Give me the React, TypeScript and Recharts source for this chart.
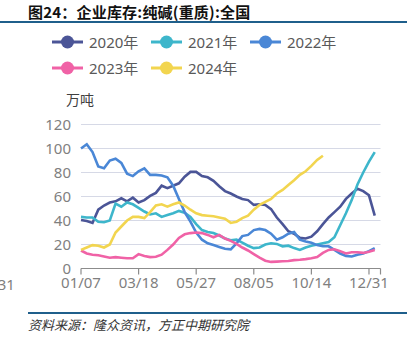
import { LineChart, Line, XAxis, YAxis, CartesianGrid } from "recharts";

const years = ["2020年", "2021年", "2022年", "2023年", "2024年"];
const keys = ["y2020", "y2021", "y2022", "y2023", "y2024"];
const colors = ["#4b5597", "#3db6cb", "#4a87d6", "#f062a6", "#f2d54f"];

const xTicks = [0, 10, 20, 30, 40, 50, 52];
const xTickLabels = ["01/07", "03/18", "05/27", "08/05", "10/14", "12/31", ""];
const yTicks = [0, 20, 40, 60, 80, 100, 120];

// weekly inventory, 万吨
const s2020 = [40.5, 39.5, 38, 49, 52.5, 55, 56, 58.5, 56, 59, 55, 57, 60.5, 63, 69, 67, 69, 71, 76.5, 80.5, 80.5, 77, 76, 73, 68.5, 64.5, 62.5, 60, 58, 57, 53, 53.5, 53, 49.5, 42.5, 37, 31, 29, 25.5, 25, 26.5, 31, 37, 42.5, 47, 51.5, 58, 62.5, 66.5, 64.5, 61, 44];
const s2021 = [43, 42.5, 42.5, 39, 38.5, 40, 54, 51.5, 55, 53.5, 50.5, 47.5, 45, 46, 43, 44.5, 46, 48, 46.5, 43, 37, 32, 30.5, 29.5, 27.5, 25, 23.5, 24, 21.5, 19, 17, 17.5, 20, 21, 20.5, 18.5, 19, 17, 15.5, 17.5, 19, 20, 21, 22, 26, 36, 46, 57, 70, 80, 89, 97];
const s2022 = [100, 103.5, 97, 85, 83.5, 90, 91.5, 88, 79, 77, 81, 83.5, 78, 78, 77.5, 76, 69, 58, 47, 39, 30, 24, 21, 19.5, 18, 16.5, 16, 21, 27, 28, 32, 33, 32, 29, 24, 26, 29, 30.5, 24, 22.5, 21.5, 19.5, 18.5, 18.5, 15.5, 12.5, 10.5, 10, 11.5, 12.5, 14.5, 17];
const s2023 = [15, 12.5, 11.5, 11, 10, 9, 9.5, 9, 8.5, 8.5, 12, 10.5, 9.5, 9.8, 11.5, 15.5, 20, 25.5, 28.5, 29.5, 30, 29.5, 28, 26, 28, 25, 23, 20.5, 17.5, 15, 12, 9, 6.5, 5.5, 5.7, 6, 6.2, 7, 7.3, 7.8, 8.5, 9.5, 13, 15.5, 16, 14.5, 12.5, 13.5, 13.5, 13, 14, 15.5];
const s2024 = [15.5, 17.5, 19.5, 19, 17.5, 20, 30, 35, 40, 43, 43, 42, 47, 52.5, 53.5, 51.5, 53.5, 55, 52.5, 49, 46, 44.5, 44, 43.5, 42.5, 41.5, 38, 39, 42, 44, 49, 53, 55.5, 58, 62.5, 65.5, 69.5, 73.5, 78, 81, 85.5, 90.5, 94];

const series = [s2020, s2021, s2022, s2023, s2024];

const data = s2020.map((_, i) => {
  const row: Record<string, number | undefined> = { w: i };
  keys.forEach((k, j) => {
    row[k] = series[j][i];
  });
  return row;
});

const font = '"Noto Sans", "Noto Sans CJK SC", sans-serif';

function LegendItem({ label, color, x, y }: { label: string; color: string; x: number; y: number }) {
  return (
    <div style={{ position: "absolute", left: x, top: y - 8, height: 16, display: "flex", alignItems: "center" }}>
      <svg width={31} height={16} style={{ display: "block" }}>
        <line x1={0} y1={8} x2={31} y2={8} stroke={color} strokeWidth={3} />
        <circle cx={15.5} cy={8} r={6.5} fill={color} />
      </svg>
      <span style={{ marginLeft: 6, fontSize: 15, lineHeight: "16px", color: "#595959", fontFamily: font }}>{label}</span>
    </div>
  );
}

export default function App() {
  const legendPos = [
    [52, 42], [151, 42], [250, 42],
    [52, 68], [151, 68],
  ];
  return (
    <div style={{ position: "absolute", left: 0, top: 0, width: 420, height: 352, background: "#fff", overflow: "hidden", fontFamily: font }}>
      <div style={{ position: "absolute", left: 28, top: 3, fontSize: 15, lineHeight: "17px", letterSpacing: 0.2, fontWeight: 700, color: "#111", fontFamily: '"Noto Sans CJK SC", sans-serif' }}>
        图24：企业库存:纯碱(重质):全国
      </div>
      <div style={{ position: "absolute", left: 0, top: 21, width: 407, height: 2, background: "#1f5f8b" }} />

      {years.map((y, i) => (
        <LegendItem key={y} label={y} color={colors[i]} x={legendPos[i][0]} y={legendPos[i][1]} />
      ))}

      <div style={{ position: "absolute", left: 66, top: 91, fontSize: 14, lineHeight: "16px", color: "#404040", fontFamily: '"Noto Sans CJK SC", sans-serif' }}>
        万吨
      </div>

      <div style={{ position: "absolute", left: -25, top: 275, fontSize: 15, lineHeight: "18px", color: "#7f7f7f", fontFamily: font }}>
        12/31
      </div>

      <div style={{ position: "absolute", left: 0, top: 0 }}>
        <LineChart width={420} height={300} data={data} margin={{ top: 124.5, right: 39.5, left: 21, bottom: 1.5 }}>
          <CartesianGrid vertical={false} stroke="#d6d9e6" strokeWidth={1.2} />
          <XAxis
            dataKey="w"
            type="number"
            domain={[0, 52]}
            ticks={xTicks}
            interval={0}
            height={30}
            tickFormatter={(v: number) => xTickLabels[xTicks.indexOf(v)] ?? ""}
            tick={{ fill: "#7f7f7f", fontSize: 15, fontFamily: font }}
            axisLine={{ stroke: "#8c8c8c", strokeWidth: 1.2 }}
            tickLine={{ stroke: "#8c8c8c", strokeWidth: 1.2 }}
            tickSize={6}
            tickMargin={3}
          />
          <YAxis
            domain={[0, 120]}
            ticks={yTicks}
            width={60}
            axisLine={false}
            tickLine={false}
            tickMargin={4}
            tick={{ fill: "#7f7f7f", fontSize: 15, fontFamily: font }}
          />
          {keys.map((k, i) => (
            <Line
              key={k}
              type="linear"
              dataKey={k}
              stroke={colors[i]}
              strokeWidth={2.6}
              dot={false}
              activeDot={false}
              connectNulls={false}
              isAnimationActive={false}
            />
          ))}
        </LineChart>
      </div>

      <div style={{ position: "absolute", left: 28, top: 312, width: 379, height: 2, background: "#1f5f8b" }} />
      <div style={{ position: "absolute", left: 28, top: 317, fontSize: 13, lineHeight: "15px", fontStyle: "italic", color: "#333", fontFamily: '"Noto Sans CJK SC", serif' }}>
        资料来源：隆众资讯，方正中期研究院
      </div>
    </div>
  );
}
